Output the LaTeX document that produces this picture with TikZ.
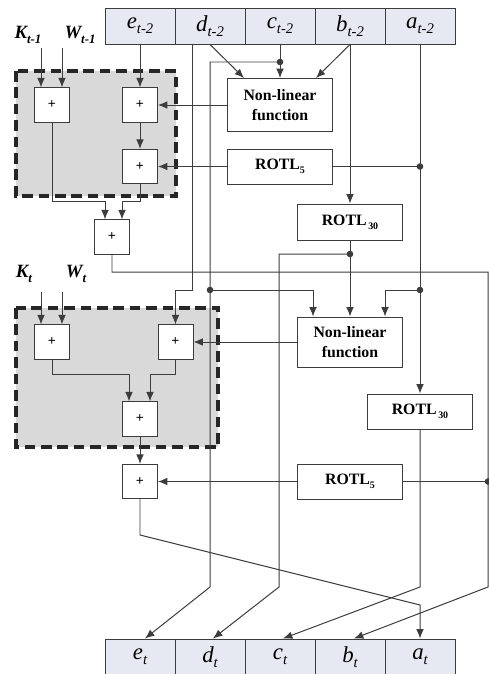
\documentclass[tikz,border=0pt]{standalone}
\usepackage{fontspec}
\setmainfont{Liberation Serif}
\usetikzlibrary{arrows.meta,calc}
\definecolor{regfill}{RGB}{230,232,242}
\definecolor{linegray}{RGB}{60,60,60}
\newcommand{\lowidx}[1]{\raisebox{-0.45ex}{\fontsize{12.5}{12.5}\selectfont #1}}
\newcommand{\rotl}[1]{ROTL\raisebox{-0.55ex}{\fontsize{8.5}{8.5}\selectfont #1}}
\tikzset{
  cell/.style={draw=linegray,fill=regfill,line width=0.8pt,minimum width=2.1cm,minimum height=1.08cm,inner sep=0pt,font=\fontsize{19.5}{19.5}\selectfont\itshape},
  adder/.style={draw=linegray,fill=white,line width=0.8pt,minimum width=1.05cm,minimum height=1.03cm,inner sep=0pt,font=\fontsize{12}{12}\selectfont\bfseries},
  func/.style={draw=linegray,fill=white,line width=0.8pt,minimum width=3.15cm,inner sep=0pt,align=center,font=\fontsize{13.5}{17}\selectfont\bfseries},
  inlabel/.style={inner sep=0pt,font=\fontsize{16}{16}\selectfont\bfseries\itshape},
  grp/.style={draw=black!85,fill=black!15,line width=2.8pt,dash pattern=on 9pt off 5pt},
  ln/.style={draw=linegray,line width=0.85pt},
  arr/.style={ln,-{Latex[length=8pt,width=6.5pt]}}
}
\begin{document}
\begin{tikzpicture}[x=0.03cm,y=-0.03cm]
\useasboundingbox (0,0) rectangle (489,674);

\draw[grp] (16,71) rectangle (176,196);
\draw[grp] (16,308) rectangle (218,447);

\node[cell] (e2) at (140,26) {e\lowidx{t-2}};
\node[cell] (d2) at (210,26) {d\lowidx{t-2}};
\node[cell] (c2) at (280,26) {c\lowidx{t-2}};
\node[cell] (b2) at (350,26) {b\lowidx{t-2}};
\node[cell] (a2) at (420,26) {a\lowidx{t-2}};

\node[cell] (et) at (140,657) {e\lowidx{t}};
\node[cell] (dt) at (210,657) {d\lowidx{t}};
\node[cell] (ct) at (280,657) {c\lowidx{t}};
\node[cell] (bt) at (350,657) {b\lowidx{t}};
\node[cell] (at) at (420,657) {a\lowidx{t}};

\node[inlabel] (k1) at (28,35) {K\raisebox{-0.5ex}{\fontsize{11}{11}\selectfont t-1}};
\node[inlabel] (w1) at (80,35) {W\raisebox{-0.5ex}{\fontsize{11}{11}\selectfont t-1}};
\node[inlabel] (k2) at (24,274) {K\raisebox{-0.5ex}{\fontsize{11}{11}\selectfont t}};
\node[inlabel] (w2) at (76,274) {W\raisebox{-0.5ex}{\fontsize{11}{11}\selectfont t}};

\node[adder] (a1k) at (52,105) {+};
\node[adder] (a1e) at (140,105) {+};
\node[adder] (a1s) at (140,166.5) {+};
\node[adder] (a1o) at (112,237) {+};
\node[func,minimum height=1.59cm] (f1) at (280,105) {Non-linear\\function};
\node[func,minimum height=1.05cm] (r5a) at (280,166.5) {\rotl{5}};
\node[func,minimum height=1.08cm] (r30a) at (350,222) {\rotl{\,30}};

\node[adder] (a2k) at (52,342) {+};
\node[adder] (a2e) at (175.5,342) {+};
\node[adder] (a2s) at (140,419) {+};
\node[adder] (a2o) at (140,481.5) {+};
\node[func,minimum height=1.5cm] (f2) at (350,342) {Non-linear\\function};
\node[func,minimum height=1.05cm] (r30b) at (420,411.5) {\rotl{\,30}};
\node[func,minimum height=1.05cm] (r5b) at (350,481.5) {\rotl{5}};

\coordinate (jc) at (280,62);
\coordinate (ja1) at (a2 |- r5a);
\coordinate (ja2) at (420,290);
\coordinate (jc2) at (210,290);
\coordinate (jr) at (350,254);
\coordinate (jb) at (488,481.5);
\coordinate (kb1) at (488,272);
\coordinate (kb2) at (488,587);
\coordinate (ke) at (210,587);
\coordinate (kd) at (279,587);
\coordinate (kc) at (420,587);
\coordinate (ka1) at (140,535);
\coordinate (ka2) at (420,605);

\draw[arr] (41,48) -- (a1k.north -| 41,0);
\draw[arr] (62,48) -- (a1k.north -| 62,0);
\draw[arr] (41,292) -- (a2k.north -| 41,0);
\draw[arr] (62,292) -- (a2k.north -| 62,0);

\draw[arr] (e2) -- (a1e);
\draw[arr] (d2.south) -- ($(f1.north)+(-36,0)$);
\draw[arr] (b2.south) -- ($(f1.north)+(36,0)$);
\draw[arr] (c2) -- (f1);
\draw[arr] (f1) -- (a1e);
\draw[arr] (r5a) -- (a1s);
\draw[ln] (r5a) -- (ja1);
\draw[arr] (a1e) -- (a1s);
\draw[arr] (a1k.south) |- ($(a1o.north)+(-7,-18)$) -- ($(a1o.north)+(-7,0)$);
\draw[arr] (a1s.south) |- ($(a1o.north)+(10,-18)$) -- ($(a1o.north)+(10,0)$);
\draw[arr] (b2) -- (r30a);
\draw[arr] (a2) -- (r30b);

\draw[arr] (jc) -| (ke) -- ($(et.north)+(5,0)$);
\draw[arr] (jc2) -| ($(f2.north)+(-37,0)$);
\draw[arr] ($(d2.south west)+(18,0)$) |- (jc2 -| a2e) -- (a2e.north);
\draw[arr] (ja2) -| ($(f2.north)+(35,0)$);
\draw[ln] (r30a) -- (jr);
\draw[arr] (jr) -- (f2);
\draw[arr] (jr) -| (kd) -- ($(dt.north)+(3,0)$);
\draw[arr] (a1o.south) |- (kb1) -- (kb2) -- ($(bt.north)+(4,0)$);

\draw[arr] (f2) -- (a2e);
\draw[arr] (a2k.south) |- ($(a2s.north)+(-11,-27)$) -- ($(a2s.north)+(-11,0)$);
\draw[arr] (a2e.south) |- ($(a2s.north)+(10,-27)$) -- ($(a2s.north)+(10,0)$);
\draw[arr] (a2s) -- (a2o);
\draw[arr] (r5b) -- (a2o);
\draw[ln] (r5b) -- (jb);
\draw[arr] (r30b) -- (kc) -- ($(ct.north)+(3,0)$);
\draw[arr] (a2o.south) -- (ka1) -- (ka2) -- (at.north);

\fill[linegray] (jc) circle (2.8pt);
\fill[linegray] (ja1) circle (2.8pt);
\fill[linegray] (ja2) circle (2.8pt);
\fill[linegray] (jc2) circle (2.8pt);
\fill[linegray] (jr) circle (2.8pt);
\fill[linegray] (jb) circle (2.8pt);
\end{tikzpicture}
\end{document}
